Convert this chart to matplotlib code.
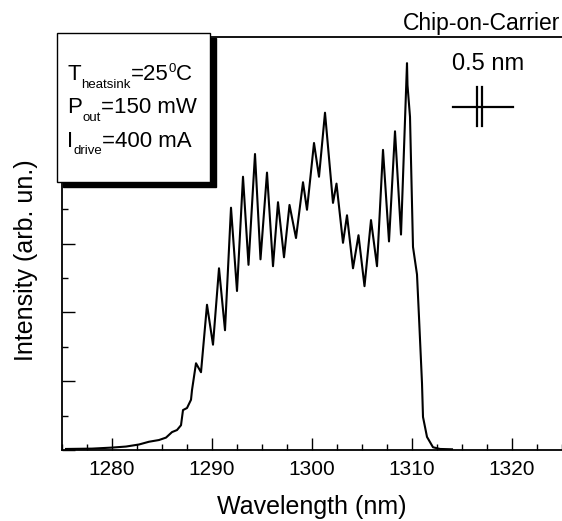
import matplotlib
matplotlib.use('Agg')
import matplotlib.pyplot as plt
from matplotlib.patches import Rectangle
from matplotlib.ticker import MultipleLocator, NullFormatter

plt.rcParams['font.family'] = ['Liberation Sans', 'DejaVu Sans']

# ---- data ----
wavelength = [1275.4, 1278.0, 1280.0, 1281.4, 1282.7, 1283.7, 1284.7, 1285.4, 1286.0,
              1286.5, 1286.9, 1287.1, 1287.5, 1287.9, 1288.0, 1288.4, 1288.9, 1289.5,
              1290.1, 1290.7, 1291.3, 1291.9, 1292.5, 1293.1, 1293.65, 1294.3, 1294.85,
              1295.5, 1296.1, 1296.6, 1297.2, 1297.75, 1298.4, 1299.1, 1299.5, 1300.2,
              1300.7, 1301.3, 1302.1, 1302.45, 1303.1, 1303.5, 1304.1, 1304.65, 1305.25,
              1305.9, 1306.5, 1307.1, 1307.7, 1308.3, 1308.9, 1309.5, 1309.55, 1309.8,
              1310.1, 1310.5, 1310.7, 1311.0, 1311.1, 1311.5, 1312.1, 1312.8, 1314.0]
intensity = [0.015, 0.02, 0.035, 0.05, 0.08, 0.12, 0.145, 0.18, 0.26,
             0.29, 0.36, 0.58, 0.61, 0.73, 0.87, 1.26, 1.13, 2.11,
             1.53, 2.64, 1.74, 3.52, 2.31, 3.97, 2.69, 4.30, 2.77,
             4.03, 2.67, 3.60, 2.80, 3.56, 3.08, 3.89, 3.49, 4.46,
             3.97, 4.90, 3.59, 3.87, 3.01, 3.41, 2.64, 3.12, 2.38,
             3.34, 2.67, 4.36, 3.03, 4.63, 3.13, 5.62, 5.30, 4.84,
             2.95, 2.55, 1.93, 0.97, 0.48, 0.19, 0.04, 0.015, 0.01]
xticks = [1280, 1290, 1300, 1310, 1320]
info_symbols = ['T', 'P', 'I']
info_subscripts = ['heatsink', 'out', 'drive']
info_values = ['=25', '=150 mW', '=400 mA']
info_superscripts = ['0', '', '']
info_tails = ['C', '', '']
title_text = 'Chip-on-Carrier'
scale_text = '0.5 nm'

W, H = 562, 521
fig = plt.figure(figsize=(W / 100, H / 100), dpi=100)
ax = fig.add_axes([62 / W, 71 / H, 500 / W, 413 / H])

ax.plot(wavelength, intensity, color='black', lw=1.5, solid_joinstyle='round')
ax.set_xlim(1275, 1325)
ax.set_ylim(0, 6)
ax.set_xticks(xticks)
ax.xaxis.set_minor_locator(MultipleLocator(2.5))
ax.yaxis.set_major_locator(MultipleLocator(1))
ax.yaxis.set_minor_locator(MultipleLocator(0.5))
ax.yaxis.set_major_formatter(NullFormatter())
ax.tick_params(which='both', direction='in', width=1.0, labelsize=15, pad=7)
ax.tick_params(which='major', length=9)
ax.tick_params(which='minor', length=4.5)
ax.tick_params(axis='x', which='both', top=False)
ax.tick_params(axis='y', which='both', right=False)
ax.spines['right'].set_visible(False)
for s in ['left', 'bottom', 'top']:
    ax.spines[s].set_linewidth(1.3)
ax.set_xlabel('Wavelength (nm)', fontsize=18, labelpad=12)
ax.set_ylabel('Intensity (arb. un.)', fontsize=18)
ax.yaxis.set_label_coords(-0.048, 0.46)

# scale bar annotation (0.5 nm)
ax.plot([1314.1, 1320.1], [4.98, 4.98], color='black', lw=1.6)
ax.plot([1316.5, 1316.5], [4.71, 5.27], color='black', lw=1.6)
ax.plot([1317.0, 1317.0], [4.71, 5.27], color='black', lw=1.6)
ax.text(1317.6, 5.61, scale_text, fontsize=17, ha='center', va='center')

fig.text(560 / W, 1 - 30 / H, title_text, fontsize=16.5, ha='right', va='baseline')

# info box with shadow
bx0, bx1, by0, by1 = 57, 210, 33, 182
fig.add_artist(Rectangle(((bx0 + 6) / W, 1 - (by1 + 5) / H), (bx1 - bx0) / W, (by1 - by0) / H,
                         transform=fig.transFigure, facecolor='black', edgecolor='black', zorder=5))
fig.add_artist(Rectangle((bx0 / W, 1 - by1 / H), (bx1 - bx0) / W, (by1 - by0) / H,
                         transform=fig.transFigure, facecolor='white', edgecolor='black', lw=1.0, zorder=6))

fig.canvas.draw()
renderer = fig.canvas.get_renderer()


def put(x, y, s, size):
    if not s:
        return x
    t = fig.text(x / W, 1 - y / H, s, fontsize=size, ha='left', va='baseline', zorder=7)
    return x + t.get_window_extent(renderer=renderer).width


MAIN, SMALL = 16, 9.5
baselines = [80, 113.5, 147]
for i in range(3):
    y = baselines[i]
    x = put(67, y, info_symbols[i], MAIN)
    x = put(x + 0.5, y + 7.5, info_subscripts[i], SMALL)
    x = put(x, y, info_values[i], MAIN)
    x = put(x + 0.5, y - 8, info_superscripts[i], SMALL)
    x = put(x, y, info_tails[i], MAIN)

fig.savefig('out.png', dpi=100)
